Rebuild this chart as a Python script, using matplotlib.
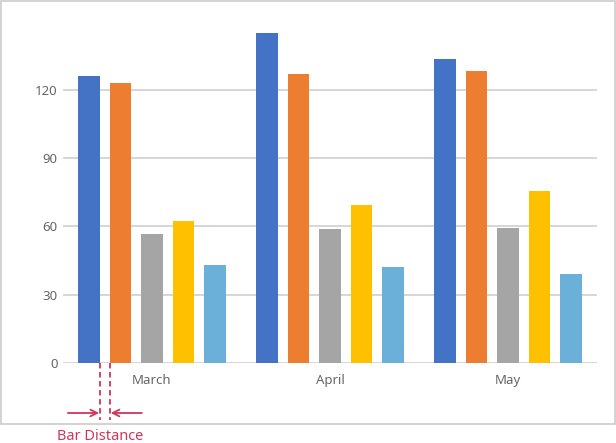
import numpy as np
import matplotlib.pyplot as plt
from matplotlib.patches import Rectangle
from matplotlib.transforms import blended_transform_factory

# data
months = ["March", "April", "May"]
series_values = [
    [126, 145, 133.5],   # blue
    [123, 127, 128.5],   # orange
    [56.5, 59, 59.5],    # gray
    [62.5, 69.5, 75.5],  # yellow
    [43, 42, 39],        # light blue
]
colors = ["#4472C4", "#ED7D31", "#A5A5A5", "#FFC000", "#6AB0D8"]
y_ticks = [0, 30, 60, 90, 120]

plt.rcParams['font.family'] = ['Noto Sans', 'DejaVu Sans']

W, H = 616, 443
fig = plt.figure(figsize=(W / 100, H / 100), dpi=100)

# frame around chart
fig.patches.append(Rectangle((0.5 / W, 19 / H), 614.5 / W, 1 - 19.5 / H,
                             transform=fig.transFigure, fill=False,
                             edgecolor="#CCCCCC", linewidth=1.2))

ax = fig.add_axes([63 / W, 80 / H, (597 - 63) / W, (363 - 21.75) / H])

pitch = 0.1765
width = 0.121
x = np.arange(len(months))
containers = []
for i, vals in enumerate(series_values):
    c = ax.bar(x + (i - 2) * pitch, vals, width=width, color=colors[i], zorder=2)
    containers.append(c)

ax.set_xlim(-0.5, 2.5)
ax.set_ylim(0, 150)
ax.set_yticks(y_ticks)
ax.set_xticks(x)
ax.set_xticklabels(months)
ax.grid(axis='y', color="#CCCCCC", linewidth=1.1, zorder=0)
ax.tick_params(axis='both', length=0, colors="#666666", labelsize=9.5)
ax.tick_params(axis='y', pad=4)
ax.tick_params(axis='x', pad=8)
for s in ax.spines.values():
    s.set_visible(False)

# bar distance annotation
red = "#D0365C"
b0 = containers[0][0]
b1 = containers[1][0]
x_left = b0.get_x() + b0.get_width()
x_right = b1.get_x()
trans = blended_transform_factory(ax.transData, ax.transAxes)
y_bot = -57 / (363 - 21.75)
for xx in (x_left, x_right):
    ax.plot([xx, xx], [0, y_bot], transform=trans, color=red, lw=1.3,
            ls=(0, (3, 2)), clip_on=False)
y_arr = -50 / (363 - 21.75)
ax.annotate("", xy=(x_left - 0.005, y_arr), xytext=(x_left - 0.18, y_arr),
            xycoords=trans, textcoords=trans,
            arrowprops=dict(arrowstyle="->", color=red, lw=1.3,
                            shrinkA=0, shrinkB=0, mutation_scale=12))
ax.annotate("", xy=(x_right + 0.005, y_arr), xytext=(x_right + 0.18, y_arr),
            xycoords=trans, textcoords=trans,
            arrowprops=dict(arrowstyle="->", color=red, lw=1.3,
                            shrinkA=0, shrinkB=0, mutation_scale=12))

fig.text(57 / W, 1 - 436.5 / H, "Bar Distance", color=red, fontsize=10.5,
         ha='left', va='center')

fig.savefig("out.png", dpi=100)
